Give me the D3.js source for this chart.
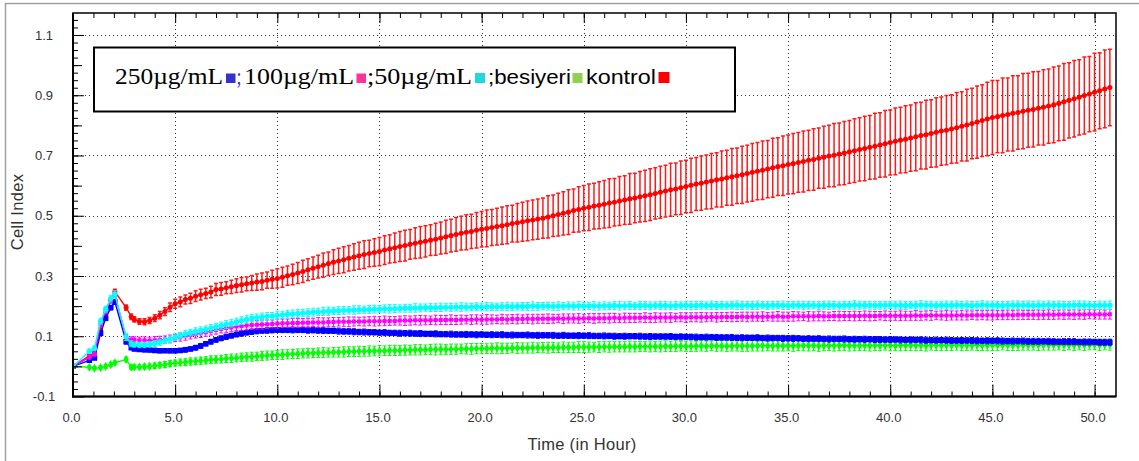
<!DOCTYPE html>
<html>
<head>
<meta charset="utf-8">
<script src="https://cdn.jsdelivr.net/npm/d3@7"></script>
<style>
  body { margin: 0; background: #fff; }
  svg { display: block; }
  .tick text { font-family: "Liberation Sans", Arial, sans-serif; font-size: 13px; fill: #333; }
  .title { font-family: "Liberation Sans", Arial, sans-serif; font-size: 16.5px; letter-spacing: 0.3px; fill: #333; }
</style>
</head>
<body>
<div class="container"></div>
<script>
const timeEarly = [0, 0.8, 1.05, 1.35, 1.6, 1.85, 2.05, 2.6, 2.85];
const timeSweep = d3.range(3, 50.8, 0.25);
const times = timeEarly.concat(timeSweep);

const xMajor = [0, 5, 10, 15, 20, 25, 30, 35, 40, 45, 50];
const yLabels = [-0.1, 0.1, 0.3, 0.5, 0.7, 0.9, 1.1];

// Cell Index, kontrol (red)
const kontrol = [0.000, 0.035, 0.045, 0.120, 0.175, 0.220, 0.248, 0.195, 0.165,
  0.156, 0.149, 0.148, 0.152, 0.160, 0.170, 0.182, 0.196,
  0.208, 0.214, 0.222, 0.226, 0.233, 0.238, 0.242, 0.247,
  0.255, 0.257, 0.261, 0.264, 0.268, 0.271, 0.274, 0.277,
  0.280, 0.282, 0.286, 0.289, 0.292, 0.296, 0.301, 0.305,
  0.310, 0.315, 0.321, 0.326, 0.331, 0.336, 0.341, 0.346,
  0.350, 0.354, 0.359, 0.363, 0.367, 0.371, 0.375, 0.378,
  0.381, 0.386, 0.390, 0.394, 0.398, 0.401, 0.405, 0.409,
  0.412, 0.415, 0.419, 0.422, 0.426, 0.430, 0.434, 0.438,
  0.442, 0.445, 0.448, 0.452, 0.455, 0.458, 0.461, 0.464,
  0.467, 0.470, 0.474, 0.477, 0.480, 0.483, 0.486, 0.489,
  0.492, 0.496, 0.500, 0.504, 0.508, 0.512, 0.517, 0.521,
  0.525, 0.528, 0.532, 0.535, 0.538, 0.542, 0.545, 0.549,
  0.552, 0.556, 0.559, 0.563, 0.566, 0.570, 0.574, 0.578,
  0.582, 0.586, 0.589, 0.593, 0.597, 0.601, 0.605, 0.608,
  0.612, 0.615, 0.619, 0.622, 0.626, 0.629, 0.633, 0.636,
  0.640, 0.644, 0.648, 0.651, 0.655, 0.659, 0.663, 0.666,
  0.670, 0.673, 0.677, 0.680, 0.684, 0.687, 0.691, 0.694,
  0.698, 0.701, 0.705, 0.708, 0.712, 0.716, 0.720, 0.723,
  0.727, 0.731, 0.735, 0.739, 0.743, 0.747, 0.751, 0.754,
  0.758, 0.762, 0.766, 0.769, 0.773, 0.777, 0.781, 0.784,
  0.788, 0.792, 0.797, 0.801, 0.806, 0.811, 0.816, 0.821,
  0.826, 0.829, 0.833, 0.836, 0.840, 0.843, 0.847, 0.850,
  0.853, 0.857, 0.860, 0.864, 0.868, 0.873, 0.878, 0.883,
  0.888, 0.893, 0.899, 0.904, 0.910, 0.915, 0.921, 0.926];

// 50 µg/mL (cyan)
const dose50 = [0.000, 0.050, 0.060, 0.150, 0.190, 0.225, 0.240, 0.098, 0.075,
  0.072, 0.071, 0.071, 0.073, 0.076, 0.080, 0.085, 0.090,
  0.097, 0.102, 0.108, 0.112, 0.116, 0.119, 0.123, 0.127,
  0.131, 0.135, 0.139, 0.143, 0.148, 0.152, 0.156, 0.160,
  0.162, 0.164, 0.166, 0.167, 0.170, 0.171, 0.173, 0.174,
  0.176, 0.177, 0.178, 0.180, 0.181, 0.182, 0.183, 0.184,
  0.185, 0.186, 0.186, 0.187, 0.188, 0.188, 0.189, 0.190,
  0.190, 0.191, 0.191, 0.192, 0.192, 0.193, 0.193, 0.194,
  0.194, 0.195, 0.195, 0.195, 0.196, 0.196, 0.196, 0.197,
  0.197, 0.197, 0.197, 0.198, 0.197, 0.198, 0.198, 0.198,
  0.198, 0.199, 0.198, 0.199, 0.199, 0.199, 0.200, 0.199,
  0.200, 0.200, 0.199, 0.200, 0.200, 0.201, 0.200, 0.201,
  0.200, 0.201, 0.201, 0.200, 0.201, 0.201, 0.202, 0.201,
  0.201, 0.202, 0.201, 0.202, 0.202, 0.201, 0.202, 0.202,
  0.202, 0.201, 0.202, 0.202, 0.203, 0.202, 0.202, 0.203,
  0.202, 0.203, 0.202, 0.203, 0.202, 0.203, 0.203, 0.202,
  0.203, 0.202, 0.203, 0.203, 0.202, 0.203, 0.203, 0.203,
  0.202, 0.203, 0.203, 0.202, 0.203, 0.203, 0.202, 0.203,
  0.203, 0.203, 0.202, 0.203, 0.203, 0.204, 0.203, 0.203,
  0.203, 0.202, 0.203, 0.203, 0.204, 0.203, 0.203, 0.202,
  0.203, 0.203, 0.204, 0.203, 0.203, 0.202, 0.203, 0.203,
  0.203, 0.204, 0.203, 0.203, 0.202, 0.203, 0.204, 0.203,
  0.203, 0.203, 0.202, 0.203, 0.203, 0.204, 0.203, 0.203,
  0.202, 0.203, 0.203, 0.204, 0.203, 0.203, 0.202, 0.203,
  0.203, 0.204, 0.203, 0.203, 0.202, 0.203, 0.203, 0.203];

// 100 µg/mL (magenta)
const dose100 = [0.000, 0.030, 0.040, 0.140, 0.185, 0.220, 0.238, 0.095, 0.088,
  0.088, 0.087, 0.087, 0.086, 0.087, 0.088, 0.089, 0.091,
  0.094, 0.097, 0.100, 0.103, 0.107, 0.110, 0.113, 0.117,
  0.121, 0.124, 0.127, 0.129, 0.132, 0.134, 0.136, 0.137,
  0.138, 0.139, 0.140, 0.141, 0.142, 0.143, 0.143, 0.144,
  0.144, 0.145, 0.145, 0.146, 0.146, 0.146, 0.147, 0.147,
  0.148, 0.148, 0.148, 0.149, 0.149, 0.149, 0.150, 0.150,
  0.150, 0.151, 0.151, 0.151, 0.152, 0.152, 0.152, 0.153,
  0.153, 0.153, 0.153, 0.154, 0.154, 0.154, 0.155, 0.154,
  0.155, 0.155, 0.155, 0.156, 0.155, 0.156, 0.156, 0.156,
  0.157, 0.156, 0.157, 0.157, 0.157, 0.158, 0.157, 0.158,
  0.158, 0.158, 0.158, 0.159, 0.158, 0.159, 0.159, 0.159,
  0.159, 0.160, 0.159, 0.160, 0.160, 0.160, 0.161, 0.160,
  0.161, 0.161, 0.161, 0.161, 0.162, 0.161, 0.162, 0.162,
  0.162, 0.162, 0.162, 0.163, 0.162, 0.163, 0.163, 0.163,
  0.163, 0.164, 0.163, 0.164, 0.164, 0.164, 0.164, 0.165,
  0.164, 0.165, 0.165, 0.165, 0.165, 0.165, 0.166, 0.165,
  0.165, 0.166, 0.166, 0.166, 0.166, 0.166, 0.167, 0.166,
  0.166, 0.167, 0.167, 0.167, 0.167, 0.167, 0.167, 0.168,
  0.167, 0.167, 0.168, 0.168, 0.168, 0.168, 0.168, 0.168,
  0.168, 0.169, 0.168, 0.169, 0.169, 0.169, 0.169, 0.169,
  0.169, 0.169, 0.170, 0.169, 0.170, 0.170, 0.170, 0.170,
  0.170, 0.170, 0.170, 0.171, 0.170, 0.171, 0.171, 0.171,
  0.171, 0.171, 0.171, 0.172, 0.171, 0.172, 0.172, 0.172,
  0.172, 0.172, 0.172, 0.173, 0.172, 0.173, 0.172, 0.173];

// 250 µg/mL (blue)
const dose250 = [0.000, 0.020, 0.028, 0.110, 0.160, 0.195, 0.214, 0.082, 0.062,
  0.058, 0.056, 0.055, 0.054, 0.053, 0.052, 0.052, 0.052,
  0.052, 0.053, 0.055, 0.058, 0.062, 0.068, 0.075, 0.082,
  0.088, 0.093, 0.098, 0.102, 0.106, 0.109, 0.112, 0.115,
  0.117, 0.118, 0.119, 0.120, 0.121, 0.121, 0.121, 0.121,
  0.121, 0.121, 0.120, 0.120, 0.119, 0.119, 0.118, 0.118,
  0.117, 0.116, 0.116, 0.115, 0.114, 0.114, 0.113, 0.113,
  0.112, 0.112, 0.111, 0.111, 0.110, 0.110, 0.110, 0.109,
  0.109, 0.108, 0.108, 0.108, 0.107, 0.107, 0.107, 0.106,
  0.106, 0.106, 0.106, 0.105, 0.106, 0.105, 0.105, 0.105,
  0.105, 0.104, 0.104, 0.104, 0.104, 0.104, 0.103, 0.103,
  0.103, 0.103, 0.103, 0.102, 0.103, 0.102, 0.102, 0.102,
  0.102, 0.102, 0.101, 0.101, 0.101, 0.101, 0.100, 0.100,
  0.100, 0.100, 0.100, 0.100, 0.099, 0.099, 0.099, 0.099,
  0.099, 0.099, 0.098, 0.098, 0.098, 0.098, 0.097, 0.097,
  0.097, 0.097, 0.096, 0.096, 0.096, 0.096, 0.095, 0.095,
  0.095, 0.095, 0.095, 0.094, 0.094, 0.094, 0.094, 0.093,
  0.093, 0.093, 0.093, 0.092, 0.092, 0.092, 0.092, 0.091,
  0.091, 0.091, 0.091, 0.091, 0.090, 0.090, 0.090, 0.090,
  0.090, 0.089, 0.089, 0.089, 0.089, 0.089, 0.088, 0.088,
  0.088, 0.088, 0.088, 0.087, 0.087, 0.087, 0.087, 0.087,
  0.086, 0.086, 0.086, 0.086, 0.086, 0.085, 0.085, 0.085,
  0.085, 0.085, 0.084, 0.084, 0.084, 0.084, 0.084, 0.083,
  0.083, 0.083, 0.083, 0.083, 0.082, 0.082, 0.082, 0.082,
  0.082, 0.081, 0.081, 0.081, 0.081, 0.080, 0.080, 0.080];

// besiyeri / medium (green)
const besiyeri = [0.000, -0.003, -0.006, -0.004, 0.000, 0.006, 0.012, 0.023, -0.003,
  -0.002, -0.002, -0.001, 0.000, 0.002, 0.004, 0.006, 0.009,
  0.011, 0.013, 0.014, 0.016, 0.017, 0.019, 0.020, 0.022,
  0.023, 0.024, 0.026, 0.027, 0.028, 0.030, 0.031, 0.032,
  0.033, 0.035, 0.036, 0.037, 0.038, 0.039, 0.040, 0.041,
  0.042, 0.043, 0.044, 0.044, 0.045, 0.046, 0.046, 0.047,
  0.047, 0.048, 0.049, 0.049, 0.050, 0.050, 0.051, 0.051,
  0.052, 0.052, 0.053, 0.053, 0.053, 0.054, 0.054, 0.055,
  0.055, 0.055, 0.056, 0.056, 0.057, 0.056, 0.057, 0.057,
  0.058, 0.058, 0.058, 0.059, 0.059, 0.059, 0.060, 0.060,
  0.060, 0.060, 0.061, 0.061, 0.061, 0.061, 0.062, 0.062,
  0.062, 0.062, 0.063, 0.062, 0.063, 0.063, 0.063, 0.064,
  0.064, 0.064, 0.064, 0.064, 0.065, 0.065, 0.065, 0.065,
  0.065, 0.066, 0.065, 0.066, 0.066, 0.066, 0.066, 0.066,
  0.067, 0.066, 0.067, 0.067, 0.067, 0.067, 0.067, 0.068,
  0.067, 0.068, 0.068, 0.068, 0.067, 0.068, 0.068, 0.068,
  0.068, 0.068, 0.068, 0.069, 0.068, 0.068, 0.069, 0.068,
  0.069, 0.068, 0.069, 0.069, 0.069, 0.069, 0.068, 0.069,
  0.069, 0.069, 0.069, 0.070, 0.069, 0.069, 0.069, 0.070,
  0.069, 0.070, 0.069, 0.070, 0.070, 0.069, 0.070, 0.070,
  0.070, 0.070, 0.070, 0.069, 0.070, 0.070, 0.070, 0.070,
  0.070, 0.071, 0.070, 0.070, 0.070, 0.071, 0.070, 0.070,
  0.071, 0.070, 0.071, 0.071, 0.070, 0.071, 0.071, 0.071,
  0.071, 0.071, 0.071, 0.072, 0.071, 0.071, 0.071, 0.072,
  0.071, 0.072, 0.071, 0.072, 0.072, 0.071, 0.072, 0.072];

// standard deviations, in thousandths of a Cell Index unit
const kontrolErr = [2, 4, 5, 7, 7, 8, 8, 9, 9,
  9, 9, 10, 10, 11, 12, 13, 14,  15, 16, 15, 17, 18, 18, 17, 19,
  20, 21, 20, 22, 23, 24, 23, 25,  27, 28, 27, 30, 32, 33, 32, 34,
  35, 37, 36, 37, 38, 40, 39, 41,  42, 43, 42, 44, 45, 46, 44, 46,
  47, 48, 47, 49, 50, 51, 49, 51,  52, 52, 51, 53, 53, 55, 54, 56,
  56, 58, 57, 59, 59, 61, 60, 61,  62, 63, 61, 64, 65, 66, 66, 67,
  67, 70, 69, 71, 72, 74, 72, 75,  75, 77, 76, 78, 79, 81, 79, 81,
  81, 84, 82, 84, 85, 86, 85, 86,  86, 88, 86, 89, 87, 90, 88, 90,
  90, 92, 90, 93, 91, 94, 92, 95,  94, 96, 95, 97, 95, 98, 96, 99,
  98, 100, 99, 101, 100, 102, 100, 103,  102, 105, 103, 105, 104, 106, 105, 107,
  106, 109, 107, 110, 108, 111, 109, 111,  110, 113, 111, 114, 112, 115, 113, 115,
  114, 117, 115, 119, 117, 120, 119, 122,  123, 120, 124, 121, 125, 122, 125, 123,
  125, 122, 125, 123, 126, 124, 127, 125,  127, 125, 128, 125, 129, 126, 129, 127];

const dose50Err = [2, 8, 8, 10, 10, 11, 11, 12, 10,
  8, 9, 9, 9, 10, 10, 10, 11,  11, 11, 12, 11, 12, 12, 11, 12,
  12, 12, 13, 12, 12, 13, 12, 13,  12, 13, 13, 12, 13, 12, 13, 13,
  13, 12, 13, 13, 12, 13, 14, 12,  13, 13, 12, 14, 13, 12, 13, 13,
  12, 13, 14, 13, 12, 13, 13, 14,  13, 12, 13, 13, 14, 12, 13, 13,
  14, 13, 12, 13, 13, 14, 13, 12,  13, 14, 13, 12, 13, 13, 14, 13,
  12, 13, 13, 14, 12, 13, 13, 14,  13, 12, 14, 13, 13, 12, 13, 14,
  13, 13, 12, 14, 13, 13, 12, 13,  14, 13, 13, 12, 13, 14, 13, 13,
  12, 14, 13, 13, 12, 13, 14, 13,  13, 13, 14, 12, 13, 13, 12, 14,
  13, 12, 13, 14, 13, 12, 13, 13,  14, 13, 12, 13, 13, 14, 13, 12,
  13, 14, 13, 13, 12, 13, 14, 13,  12, 13, 14, 13, 13, 12, 13, 14,
  13, 13, 12, 14, 13, 13, 14, 13,  14, 13, 13, 12, 14, 13, 13, 14,
  13, 14, 13, 13, 12, 14, 13, 13,  14, 13, 14, 13, 13, 14, 13, 14];

const dose100Err = [2, 6, 6, 10, 10, 10, 10, 10, 10,
  10, 10, 11, 11, 12, 12, 12, 13,  12, 13, 13, 12, 13, 14, 13, 13,
  14, 13, 14, 14, 13, 14, 15, 14,  14, 15, 14, 13, 15, 14, 14, 15,
  15, 14, 15, 14, 16, 15, 14, 15,  14, 15, 16, 15, 14, 15, 15, 16,
  15, 16, 15, 14, 15, 16, 15, 15,  16, 15, 14, 16, 15, 15, 16, 15,
  15, 14, 16, 15, 15, 16, 15, 14,  16, 15, 15, 16, 14, 15, 16, 15,
  15, 16, 15, 14, 16, 15, 15, 16,  14, 15, 16, 15, 15, 16, 15, 14,
  16, 15, 15, 14, 16, 15, 16, 15,  15, 16, 14, 15, 16, 15, 15, 16,
  15, 14, 16, 15, 15, 16, 15, 15,  16, 15, 15, 16, 14, 15, 16, 15,
  15, 16, 15, 14, 16, 15, 16, 15,  14, 15, 16, 15, 15, 16, 15, 16,
  16, 15, 14, 16, 15, 15, 16, 15,  15, 16, 15, 15, 16, 14, 15, 16,
  15, 15, 16, 15, 14, 16, 15, 16,  16, 15, 15, 16, 15, 16, 15, 15,
  15, 16, 15, 16, 15, 15, 16, 15,  16, 15, 16, 15, 15, 16, 15, 16];

const dose250Err = [2, 6, 6, 8, 8, 8, 8, 8, 6,
  6, 6, 7, 6, 7, 7, 6, 7,  7, 7, 8, 7, 8, 8, 7, 8,
  8, 8, 9, 8, 8, 9, 8, 9,  9, 8, 9, 9, 8, 9, 9, 10,
  9, 9, 10, 9, 9, 10, 9, 9,  10, 9, 9, 10, 9, 10, 9, 9,
  9, 10, 9, 9, 10, 9, 10, 9,  10, 9, 9, 10, 9, 9, 10, 9,
  9, 10, 9, 10, 9, 9, 10, 9,  10, 9, 10, 9, 9, 10, 9, 10,
  9, 9, 10, 9, 10, 9, 9, 10,  9, 10, 9, 9, 10, 9, 10, 9,
  10, 9, 9, 10, 9, 10, 9, 9,  9, 10, 9, 10, 9, 9, 10, 9,
  10, 9, 10, 9, 9, 10, 9, 10,  9, 9, 10, 9, 10, 9, 9, 10,
  9, 10, 9, 9, 10, 9, 10, 9,  10, 9, 9, 10, 9, 10, 9, 10,
  9, 10, 10, 9, 10, 9, 10, 9,  10, 9, 10, 10, 9, 10, 9, 10,
  10, 9, 10, 9, 10, 10, 9, 10,  9, 10, 10, 9, 10, 9, 10, 10,
  10, 10, 9, 10, 10, 9, 10, 10,  10, 9, 10, 10, 9, 10, 10, 10];

const besiyeriErr = [2, 5, 5, 6, 6, 6, 6, 8, 6,
  7, 7, 8, 8, 9, 9, 10, 10,  10, 11, 11, 12, 11, 12, 12, 13,
  12, 13, 13, 14, 13, 14, 14, 15,  14, 15, 15, 14, 15, 16, 15, 15,
  16, 15, 16, 15, 16, 16, 15, 16,  16, 17, 16, 16, 17, 16, 17, 16,
  17, 16, 17, 17, 16, 17, 16, 17,  17, 16, 17, 18, 17, 16, 17, 17,
  16, 17, 18, 17, 17, 16, 17, 18,  17, 17, 16, 18, 17, 17, 18, 16,
  17, 18, 17, 16, 18, 17, 17, 18,  18, 17, 16, 18, 17, 18, 17, 17,
  17, 18, 17, 17, 16, 18, 17, 18,  18, 17, 18, 16, 17, 18, 17, 17,
  17, 16, 18, 17, 18, 17, 17, 18,  18, 17, 17, 18, 16, 17, 18, 17,
  17, 18, 16, 17, 18, 17, 18, 17,  16, 18, 17, 17, 18, 17, 16, 18,
  18, 17, 17, 16, 18, 17, 18, 17,  17, 18, 17, 18, 16, 17, 18, 17,
  17, 17, 18, 17, 16, 18, 17, 18,  18, 17, 16, 18, 17, 18, 17, 17,
  17, 18, 17, 18, 17, 16, 18, 17,  18, 17, 18, 17, 17, 18, 17, 18];

const width = 1139, height = 461;
const svg = d3.select(".container").append("svg")
  .attr("width", width).attr("height", height);

// grey frame round the whole picture
svg.append("rect")
  .attr("x", 5.5).attr("y", 3.5).attr("width", 1150).attr("height", 480)
  .attr("fill", "none").attr("stroke", "#a0a0a0").attr("stroke-width", 1.5);

const x = d3.scaleLinear().domain([0, 51.05]).range([73, 1116]);
const y = d3.scaleLinear().domain([-0.1, 1.173]).range([396.5, 13]);
const px = v => Math.round(v) + 0.5;

// dotted grid
const grid = svg.append("g").attr("stroke", "#333").attr("stroke-dasharray", "1,3");
grid.selectAll(".vgrid").data(xMajor.filter(d => d > 0)).enter().append("line")
  .attr("x1", d => px(x(d))).attr("x2", d => px(x(d)))
  .attr("y1", 13).attr("y2", 396);
grid.selectAll(".hgrid").data(yLabels.filter(d => d > -0.1)).enter().append("line")
  .attr("x1", 73).attr("x2", 1116)
  .attr("y1", d => px(y(d))).attr("y2", d => px(y(d)));

// series
const series = [
  { name: "kontrol", values: kontrol, err: kontrolErr, color: "#ff0000", bar: "#ff1a1a", barWidth: 1.5, shape: d3.symbolCircle, size: 20 },
  { name: "besiyeri", values: besiyeri, err: besiyeriErr, color: "#00ff00", bar: "#00ff00", barWidth: 1, shape: d3.symbolDiamond, size: 24 },
  { name: "250", values: dose250, err: dose250Err, color: "#0000ff", bar: "#0000ff", barWidth: 1, shape: d3.symbolSquare, size: 30 },
  { name: "100", values: dose100, err: dose100Err, color: "#ff00ff", bar: "#ff00ff", barWidth: 1, shape: d3.symbolSquare, size: 16 },
  { name: "50", values: dose50, err: dose50Err, color: "#00ffff", bar: "#00ffff", barWidth: 1, shape: d3.symbolCircle, size: 22 }
];

svg.append("clipPath").attr("id", "plot-clip").append("rect")
  .attr("x", 73).attr("y", 13).attr("width", 1043).attr("height", 383.5);
const plot = svg.append("g").attr("clip-path", "url(#plot-clip)");

const line = d3.line().x(d => x(d.t)).y(d => y(d.v));

series.forEach(s => {
  const pts = times.map((t, i) => ({ t: t, v: s.values[i], e: s.err[i] / 1000 }));
  const g = plot.append("g").attr("class", "series-" + s.name);
  g.append("path").datum(pts).attr("d", line)
    .attr("fill", "none").attr("stroke", s.color).attr("stroke-width", 1.4);
  const bars = g.selectAll(".bar").data(pts).enter().append("g")
    .attr("stroke", s.bar).attr("stroke-width", s.barWidth);
  bars.append("line")
    .attr("x1", d => x(d.t)).attr("x2", d => x(d.t))
    .attr("y1", d => y(d.v - d.e)).attr("y2", d => y(d.v + d.e));
  bars.append("line")
    .attr("x1", d => x(d.t) - 2).attr("x2", d => x(d.t) + 2)
    .attr("y1", d => y(d.v + d.e)).attr("y2", d => y(d.v + d.e));
  bars.append("line")
    .attr("x1", d => x(d.t) - 2).attr("x2", d => x(d.t) + 2)
    .attr("y1", d => y(d.v - d.e)).attr("y2", d => y(d.v - d.e));
  g.selectAll(".mark").data(pts).enter().append("path")
    .attr("d", d3.symbol().type(s.shape).size(s.size))
    .attr("transform", d => `translate(${x(d.t)},${y(d.v)})`)
    .attr("fill", s.color);
});

// axes
const xBottom = svg.append("g").attr("transform", "translate(0,396.5)")
  .call(d3.axisBottom(x).tickValues(xMajor).tickFormat(d => d.toFixed(1))
    .tickSizeInner(-12).tickSizeOuter(0).tickPadding(16));
xBottom.select(".domain").remove();
xBottom.selectAll("text").attr("dx", -2);

const xBottomMinor = svg.append("g").attr("transform", "translate(0,396.5)")
  .call(d3.axisBottom(x).tickValues(d3.range(1, 51, 1)).tickFormat("")
    .tickSizeInner(-5).tickSizeOuter(0));
xBottomMinor.select(".domain").remove();

const xTop = svg.append("g").attr("transform", "translate(0,13)")
  .call(d3.axisTop(x).tickValues(xMajor).tickFormat("").tickSizeInner(-10).tickSizeOuter(0));
xTop.select(".domain").remove();
const xTopMinor = svg.append("g").attr("transform", "translate(0,13)")
  .call(d3.axisTop(x).tickValues(d3.range(1, 51, 1)).tickFormat("").tickSizeInner(-5).tickSizeOuter(0));
xTopMinor.select(".domain").remove();

const yLeft = svg.append("g").attr("transform", "translate(73,0)")
  .call(d3.axisLeft(y).tickValues(yLabels).tickFormat(d => d.toFixed(1))
    .tickSizeInner(-11).tickSizeOuter(0));
yLeft.select(".domain").remove();
yLeft.selectAll("text").attr("x", -29).attr("text-anchor", "middle");

const yLeftMid = svg.append("g").attr("transform", "translate(73,0)")
  .call(d3.axisLeft(y).tickValues(d3.range(0, 1.15, 0.2)).tickFormat("")
    .tickSizeInner(-9).tickSizeOuter(0));
yLeftMid.select(".domain").remove();
const yLeftMinor = svg.append("g").attr("transform", "translate(73,0)")
  .call(d3.axisLeft(y).tickValues(d3.range(-0.075, 1.17, 0.025)).tickFormat("")
    .tickSizeInner(-5).tickSizeOuter(0));
yLeftMinor.select(".domain").remove();

// plot frame
svg.append("rect").attr("x", 73).attr("y", 13).attr("width", 1043).attr("height", 383.5)
  .attr("fill", "none").attr("stroke", "#000").attr("stroke-width", 1.5);
svg.append("line").attr("x1", 73).attr("x2", 73).attr("y1", 13).attr("y2", 397.5)
  .attr("stroke", "#000").attr("stroke-width", 2);
svg.append("line").attr("x1", 72).attr("x2", 1116).attr("y1", 396.5).attr("y2", 396.5)
  .attr("stroke", "#000").attr("stroke-width", 2);

svg.append("text").attr("class", "title")
  .attr("transform", "translate(23,212) rotate(-90)")
  .attr("text-anchor", "middle").text("Cell Index");
svg.append("text").attr("class", "title")
  .attr("x", 582).attr("y", 450).attr("text-anchor", "middle").text("Time (in Hour)");

// legend box
const legend = svg.append("g");
legend.append("rect").attr("x", 94).attr("y", 47.5).attr("width", 641).attr("height", 64)
  .attr("fill", "#fff").attr("stroke", "#000").attr("stroke-width", 2);

const legendText = [
  { text: "250µg/mL", x: 115, len: 108, serif: true, color: "#000" },
  { text: ";", x: 236.5, len: 5, serif: true, color: "#3333cc" },
  { text: "100µg/mL", x: 244, len: 110, serif: true, color: "#000" },
  { text: ";50µg/mL", x: 367, len: 105, serif: true, color: "#000" },
  { text: ";besiyeri", x: 488, len: 83, serif: false, color: "#000" },
  { text: "kontrol", x: 586, len: 70, serif: false, color: "#000" }
];
const legendSwatch = [
  { x: 226, w: 9.5, color: "#3333cc" },
  { x: 356.5, w: 9.5, color: "#ff3399" },
  { x: 475, w: 10, color: "#22d6dd" },
  { x: 572.5, w: 10, color: "#92d050" },
  { x: 658.5, w: 11, color: "#ff0000" }
];
legend.selectAll(".ltext").data(legendText).enter().append("text")
  .attr("x", d => d.x).attr("y", 83.5)
  .attr("textLength", d => d.len).attr("lengthAdjust", "spacingAndGlyphs")
  .style("font-family", d => d.serif ? '"Liberation Serif", "Times New Roman", serif' : '"Liberation Sans", Arial, sans-serif')
  .style("font-size", d => d.serif ? "23px" : "21px")
  .attr("fill", d => d.color)
  .text(d => d.text);
legend.selectAll(".lsw").data(legendSwatch).enter().append("rect")
  .attr("x", d => d.x).attr("y", d => 83 - d.w).attr("width", d => d.w).attr("height", d => d.w)
  .attr("fill", d => d.color);
</script>
</body>
</html>
